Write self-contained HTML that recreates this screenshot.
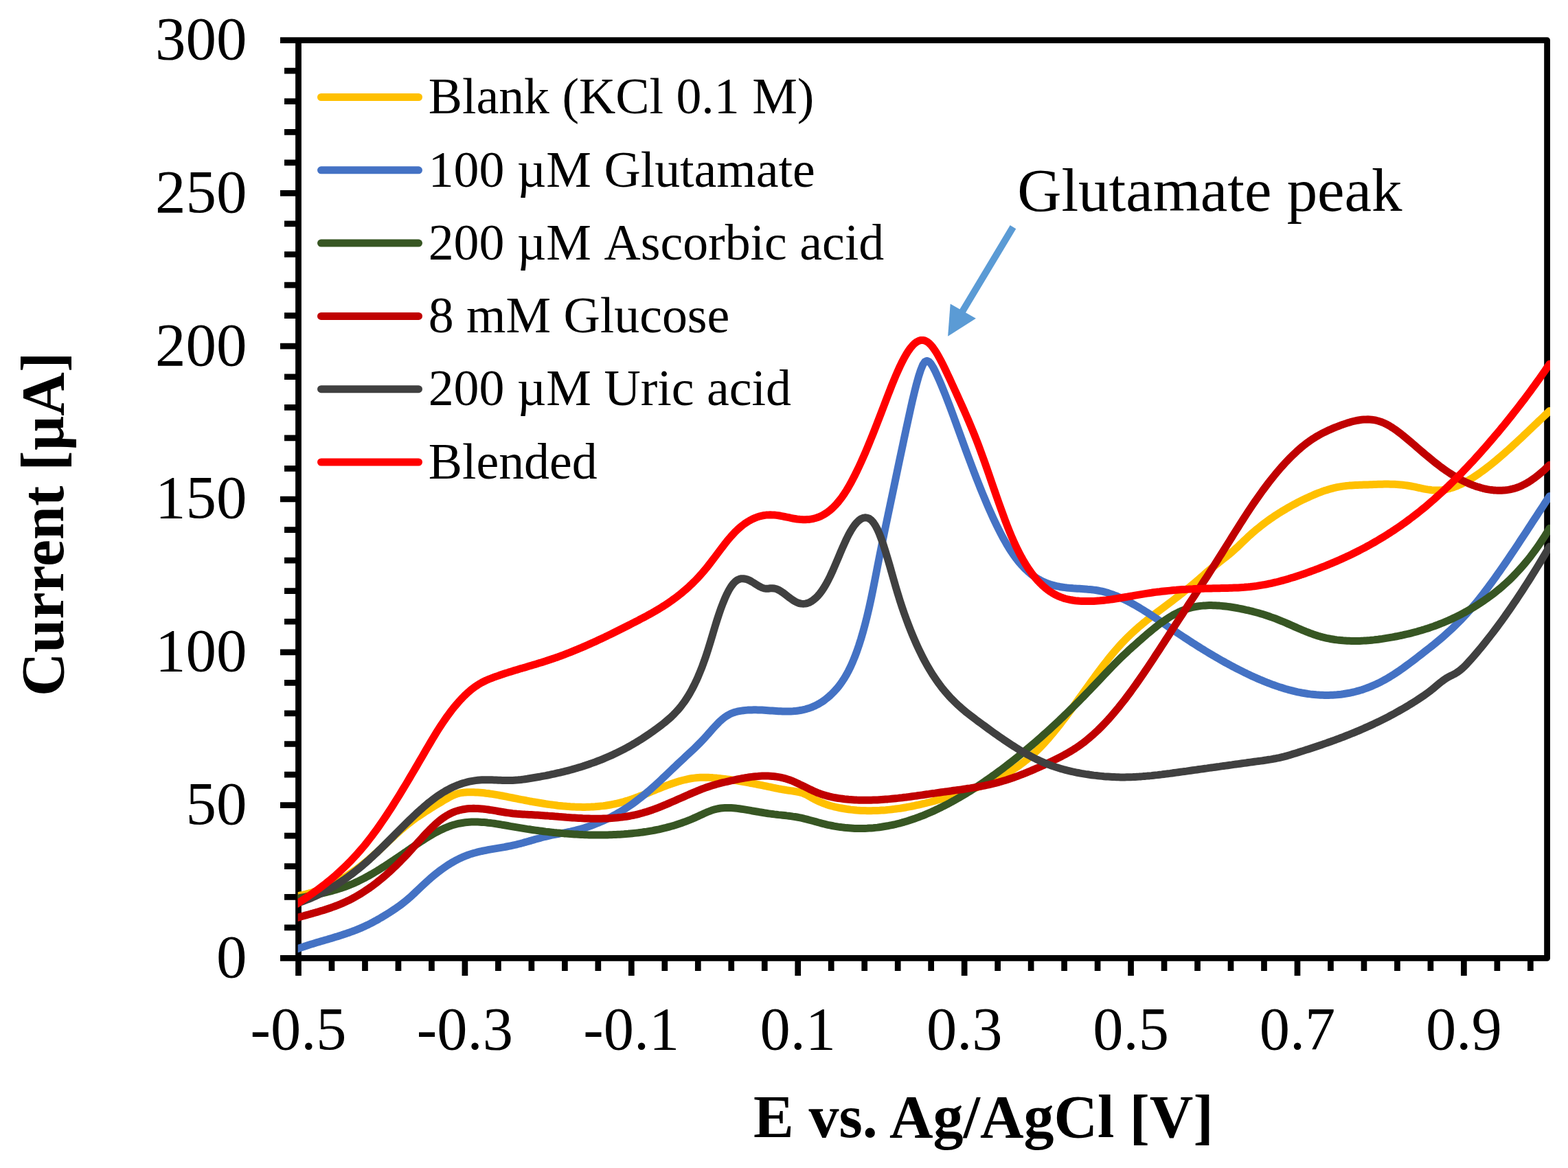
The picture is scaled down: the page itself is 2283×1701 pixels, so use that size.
<!DOCTYPE html>
<html lang="en"><head><meta charset="utf-8"><title>Voltammogram</title>
<style>html,body{margin:0;padding:0;background:#fff}body{width:2283px;height:1701px;overflow:hidden}svg{display:block}text{font-family:"Liberation Serif",serif;fill:#000;font-kerning:none}.b{font-weight:bold;font-kerning:auto}</style></head><body>
<svg width="2283" height="1701" viewBox="0 0 2283 1701">
<rect width="2283" height="1701" fill="#fff"/>
<path d="M414.0 1350.84H434.5M414.0 1306.28H434.5M414.0 1261.72H434.5M414.0 1217.16H434.5M408.0 1172.60H434.5M414.0 1128.04H434.5M414.0 1083.48H434.5M414.0 1038.92H434.5M414.0 994.36H434.5M408.0 949.80H434.5M414.0 905.24H434.5M414.0 860.68H434.5M414.0 816.12H434.5M414.0 771.56H434.5M408.0 727.00H434.5M414.0 682.44H434.5M414.0 637.88H434.5M414.0 593.32H434.5M414.0 548.76H434.5M408.0 504.20H434.5M414.0 459.64H434.5M414.0 415.08H434.5M414.0 370.52H434.5M414.0 325.96H434.5M408.0 281.40H434.5M414.0 236.84H434.5M414.0 192.28H434.5M414.0 147.72H434.5M414.0 103.16H434.5M434.50 1395.4V1421.0M482.98 1395.4V1414.0M531.47 1395.4V1414.0M579.95 1395.4V1414.0M628.43 1395.4V1414.0M676.91 1395.4V1421.0M725.40 1395.4V1414.0M773.88 1395.4V1414.0M822.36 1395.4V1414.0M870.84 1395.4V1414.0M919.33 1395.4V1421.0M967.81 1395.4V1414.0M1016.29 1395.4V1414.0M1064.77 1395.4V1414.0M1113.26 1395.4V1414.0M1161.74 1395.4V1421.0M1210.22 1395.4V1414.0M1258.71 1395.4V1414.0M1307.19 1395.4V1414.0M1355.67 1395.4V1414.0M1404.15 1395.4V1421.0M1452.64 1395.4V1414.0M1501.12 1395.4V1414.0M1549.60 1395.4V1414.0M1598.08 1395.4V1414.0M1646.57 1395.4V1421.0M1695.05 1395.4V1414.0M1743.53 1395.4V1414.0M1792.01 1395.4V1414.0M1840.50 1395.4V1414.0M1888.98 1395.4V1421.0M1937.46 1395.4V1414.0M1985.95 1395.4V1414.0M2034.43 1395.4V1414.0M2082.91 1395.4V1414.0M2131.39 1395.4V1421.0M2179.88 1395.4V1414.0M2228.36 1395.4V1414.0" stroke="#000" stroke-width="8.7" fill="none"/>
<path d="M408.0 58.60H2252.60V1395.40H408.0" stroke="#000" stroke-width="8.8" fill="none" stroke-linejoin="round"/>
<path d="M434.50 58.60V1395.40" stroke="#000" stroke-width="8.8" fill="none"/>
<defs><clipPath id="cp"><rect x="433.7" y="0" width="1823.3" height="1701"/></clipPath></defs>
<g fill="none" stroke-width="11" stroke-linejoin="round" stroke-linecap="round" clip-path="url(#cp)">
<path stroke="#FFC000" d="M428.5 1305.6L431.5 1305.1L434.5 1304.6L437.5 1304.0L440.5 1303.4L443.5 1302.7L446.5 1301.9L449.5 1301.1L452.5 1300.2L455.5 1299.3L458.5 1298.3L461.5 1297.3L464.5 1296.2L467.5 1295.0L470.5 1293.8L473.5 1292.5L476.5 1291.2L479.5 1289.8L482.5 1288.4L485.5 1286.9L488.5 1285.3L491.5 1283.7L494.5 1282.0L497.5 1280.2L500.5 1278.4L503.5 1276.6L506.5 1274.7L509.5 1272.7L512.5 1270.6L515.5 1268.5L518.5 1266.4L521.5 1264.2L524.5 1261.9L527.5 1259.5L530.5 1257.1L533.5 1254.7L536.5 1252.1L539.5 1249.6L542.5 1246.9L545.5 1244.2L548.5 1241.5L551.5 1238.7L554.5 1235.9L557.5 1233.1L560.5 1230.2L563.5 1227.4L566.5 1224.5L569.5 1221.7L572.5 1218.9L575.5 1216.1L578.5 1213.4L581.5 1210.7L584.5 1208.0L587.5 1205.5L590.5 1202.9L593.5 1200.5L596.5 1198.1L599.5 1195.8L602.5 1193.6L605.5 1191.4L608.5 1189.3L611.5 1187.3L614.5 1185.3L617.5 1183.3L620.5 1181.4L623.5 1179.5L626.5 1177.6L629.5 1175.7L632.5 1173.9L635.5 1172.1L638.5 1170.3L641.5 1168.5L644.5 1166.6L647.5 1164.8L650.5 1163.1L653.5 1161.4L656.5 1159.9L659.5 1158.4L662.5 1157.2L665.5 1156.1L668.5 1155.2L671.5 1154.6L674.5 1154.2L677.5 1153.9L680.5 1153.7L683.5 1153.7L686.5 1153.7L689.5 1153.7L692.5 1153.9L695.5 1154.0L698.5 1154.2L701.5 1154.5L704.5 1154.8L707.5 1155.2L710.5 1155.5L713.5 1156.0L716.5 1156.4L719.5 1156.9L722.5 1157.4L725.5 1157.9L728.5 1158.5L731.5 1159.0L734.5 1159.6L737.5 1160.2L740.5 1160.8L743.5 1161.4L746.5 1162.0L749.5 1162.6L752.5 1163.2L755.5 1163.8L758.5 1164.4L761.5 1164.9L764.5 1165.5L767.5 1166.1L770.5 1166.7L773.5 1167.2L776.5 1167.8L779.5 1168.3L782.5 1168.8L785.5 1169.3L788.5 1169.8L791.5 1170.3L794.5 1170.8L797.5 1171.2L800.5 1171.6L803.5 1172.0L806.5 1172.4L809.5 1172.8L812.5 1173.2L815.5 1173.5L818.5 1173.8L821.5 1174.1L824.5 1174.3L827.5 1174.6L830.5 1174.8L833.5 1174.9L836.5 1175.1L839.5 1175.2L842.5 1175.3L845.5 1175.3L848.5 1175.4L851.5 1175.4L854.5 1175.3L857.5 1175.2L860.5 1175.1L863.5 1174.9L866.5 1174.8L869.5 1174.5L872.5 1174.2L875.5 1173.9L878.5 1173.6L881.5 1173.2L884.5 1172.7L887.5 1172.2L890.5 1171.7L893.5 1171.1L896.5 1170.5L899.5 1169.8L902.5 1169.1L905.5 1168.3L908.5 1167.5L911.5 1166.6L914.5 1165.7L917.5 1164.7L920.5 1163.7L923.5 1162.6L926.5 1161.5L929.5 1160.4L932.5 1159.2L935.5 1158.1L938.5 1156.9L941.5 1155.7L944.5 1154.4L947.5 1153.2L950.5 1152.0L953.5 1150.8L956.5 1149.5L959.5 1148.3L962.5 1147.1L965.5 1145.9L968.5 1144.8L971.5 1143.7L974.5 1142.6L977.5 1141.5L980.5 1140.5L983.5 1139.5L986.5 1138.5L989.5 1137.6L992.5 1136.8L995.5 1136.0L998.5 1135.3L1001.5 1134.6L1004.5 1134.0L1007.5 1133.5L1010.5 1133.1L1013.5 1132.8L1016.5 1132.5L1019.5 1132.3L1022.5 1132.2L1025.5 1132.2L1028.5 1132.2L1031.5 1132.3L1034.5 1132.4L1037.5 1132.6L1040.5 1132.9L1043.5 1133.1L1046.5 1133.4L1049.5 1133.8L1052.5 1134.1L1055.5 1134.5L1058.5 1134.9L1061.5 1135.3L1064.5 1135.7L1067.5 1136.2L1070.5 1136.6L1073.5 1137.1L1076.5 1137.6L1079.5 1138.1L1082.5 1138.6L1085.5 1139.1L1088.5 1139.6L1091.5 1140.2L1094.5 1140.7L1097.5 1141.3L1100.5 1141.9L1103.5 1142.5L1106.5 1143.1L1109.5 1143.7L1112.5 1144.3L1115.5 1144.9L1118.5 1145.6L1121.5 1146.2L1124.5 1146.8L1127.5 1147.5L1130.5 1148.1L1133.5 1148.7L1136.5 1149.2L1139.5 1149.8L1142.5 1150.3L1145.5 1150.8L1148.5 1151.2L1151.5 1151.6L1154.5 1152.0L1157.5 1152.5L1160.5 1153.0L1163.5 1153.6L1166.5 1154.4L1169.5 1155.4L1172.5 1156.7L1175.5 1158.2L1178.5 1159.8L1181.5 1161.6L1184.5 1163.3L1187.5 1164.8L1190.5 1166.3L1193.5 1167.7L1196.5 1168.9L1199.5 1170.1L1202.5 1171.2L1205.5 1172.2L1208.5 1173.2L1211.5 1174.0L1214.5 1174.8L1217.5 1175.5L1220.5 1176.2L1223.5 1176.8L1226.5 1177.3L1229.5 1177.8L1232.5 1178.3L1235.5 1178.7L1238.5 1179.1L1241.5 1179.4L1244.5 1179.7L1247.5 1180.0L1250.5 1180.2L1253.5 1180.4L1256.5 1180.5L1259.5 1180.6L1262.5 1180.7L1265.5 1180.7L1268.5 1180.7L1271.5 1180.6L1274.5 1180.6L1277.5 1180.4L1280.5 1180.3L1283.5 1180.1L1286.5 1179.9L1289.5 1179.7L1292.5 1179.4L1295.5 1179.1L1298.5 1178.8L1301.5 1178.4L1304.5 1178.0L1307.5 1177.6L1310.5 1177.2L1313.5 1176.7L1316.5 1176.2L1319.5 1175.7L1322.5 1175.1L1325.5 1174.6L1328.5 1174.0L1331.5 1173.4L1334.5 1172.7L1337.5 1172.1L1340.5 1171.4L1343.5 1170.7L1346.5 1170.0L1349.5 1169.2L1352.5 1168.5L1355.5 1167.7L1358.5 1166.9L1361.5 1166.1L1364.5 1165.3L1367.5 1164.4L1370.5 1163.6L1373.5 1162.7L1376.5 1161.8L1379.5 1160.9L1382.5 1160.0L1385.5 1159.1L1388.5 1158.1L1391.5 1157.2L1394.5 1156.2L1397.5 1155.3L1400.5 1154.3L1403.5 1153.3L1406.5 1152.3L1409.5 1151.3L1412.5 1150.3L1415.5 1149.2L1418.5 1148.1L1421.5 1147.0L1424.5 1145.9L1427.5 1144.8L1430.5 1143.6L1433.5 1142.4L1436.5 1141.1L1439.5 1139.8L1442.5 1138.5L1445.5 1137.1L1448.5 1135.7L1451.5 1134.2L1454.5 1132.7L1457.5 1131.2L1460.5 1129.5L1463.5 1127.9L1466.5 1126.1L1469.5 1124.3L1472.5 1122.5L1475.5 1120.5L1478.5 1118.5L1481.5 1116.5L1484.5 1114.3L1487.5 1112.1L1490.5 1109.8L1493.5 1107.5L1496.5 1105.0L1499.5 1102.5L1502.5 1099.9L1505.5 1097.2L1508.5 1094.4L1511.5 1091.5L1514.5 1088.5L1517.5 1085.4L1520.5 1082.2L1523.5 1078.9L1526.5 1075.5L1529.5 1072.0L1532.5 1068.5L1535.5 1064.8L1538.5 1061.1L1541.5 1057.3L1544.5 1053.5L1547.5 1049.5L1550.5 1045.6L1553.5 1041.6L1556.5 1037.5L1559.5 1033.4L1562.5 1029.3L1565.5 1025.2L1568.5 1021.0L1571.5 1016.8L1574.5 1012.6L1577.5 1008.4L1580.5 1004.3L1583.5 1000.1L1586.5 995.9L1589.5 991.8L1592.5 987.7L1595.5 983.6L1598.5 979.5L1601.5 975.5L1604.5 971.5L1607.5 967.6L1610.5 963.8L1613.5 960.0L1616.5 956.2L1619.5 952.6L1622.5 949.0L1625.5 945.5L1628.5 942.1L1631.5 938.8L1634.5 935.6L1637.5 932.4L1640.5 929.4L1643.5 926.4L1646.5 923.6L1649.5 920.8L1652.5 918.0L1655.5 915.3L1658.5 912.7L1661.5 910.2L1664.5 907.6L1667.5 905.2L1670.5 902.8L1673.5 900.4L1676.5 898.0L1679.5 895.7L1682.5 893.4L1685.5 891.1L1688.5 888.8L1691.5 886.6L1694.5 884.3L1697.5 882.1L1700.5 879.8L1703.5 877.6L1706.5 875.3L1709.5 873.0L1712.5 870.7L1715.5 868.4L1718.5 866.0L1721.5 863.6L1724.5 861.2L1727.5 858.8L1730.5 856.3L1733.5 853.8L1736.5 851.3L1739.5 848.8L1742.5 846.2L1745.5 843.5L1748.5 840.9L1751.5 838.3L1754.5 835.6L1757.5 833.0L1760.5 830.5L1763.5 828.0L1766.5 825.6L1769.5 823.2L1772.5 820.9L1775.5 818.5L1778.5 816.2L1781.5 813.8L1784.5 811.5L1787.5 809.0L1790.5 806.6L1793.5 804.0L1796.5 801.4L1799.5 798.7L1802.5 795.9L1805.5 793.0L1808.5 790.1L1811.5 787.2L1814.5 784.4L1817.5 781.6L1820.5 778.9L1823.5 776.2L1826.5 773.6L1829.5 771.1L1832.5 768.7L1835.5 766.3L1838.5 763.9L1841.5 761.6L1844.5 759.4L1847.5 757.2L1850.5 755.1L1853.5 753.1L1856.5 751.0L1859.5 749.1L1862.5 747.2L1865.5 745.3L1868.5 743.5L1871.5 741.7L1874.5 739.9L1877.5 738.2L1880.5 736.5L1883.5 734.9L1886.5 733.3L1889.5 731.7L1892.5 730.2L1895.5 728.7L1898.5 727.2L1901.5 725.8L1904.5 724.4L1907.5 723.0L1910.5 721.7L1913.5 720.4L1916.5 719.1L1919.5 717.9L1922.5 716.8L1925.5 715.7L1928.5 714.6L1931.5 713.7L1934.5 712.7L1937.5 711.9L1940.5 711.1L1943.5 710.3L1946.5 709.7L1949.5 709.1L1952.5 708.6L1955.5 708.1L1958.5 707.8L1961.5 707.4L1964.5 707.1L1967.5 706.9L1970.5 706.7L1973.5 706.5L1976.5 706.4L1979.5 706.3L1982.5 706.2L1985.5 706.1L1988.5 706.0L1991.5 705.9L1994.5 705.8L1997.5 705.7L2000.5 705.5L2003.5 705.4L2006.5 705.3L2009.5 705.3L2012.5 705.2L2015.5 705.1L2018.5 705.1L2021.5 705.1L2024.5 705.2L2027.5 705.2L2030.5 705.3L2033.5 705.5L2036.5 705.7L2039.5 705.9L2042.5 706.2L2045.5 706.6L2048.5 707.0L2051.5 707.5L2054.5 708.0L2057.5 708.6L2060.5 709.2L2063.5 709.9L2066.5 710.5L2069.5 711.2L2072.5 711.8L2075.5 712.4L2078.5 712.9L2081.5 713.3L2084.5 713.7L2087.5 713.9L2090.5 714.1L2093.5 714.0L2096.5 713.9L2099.5 713.6L2102.5 713.2L2105.5 712.6L2108.5 711.9L2111.5 711.1L2114.5 710.2L2117.5 709.2L2120.5 708.1L2123.5 706.8L2126.5 705.5L2129.5 704.0L2132.5 702.5L2135.5 700.9L2138.5 699.2L2141.5 697.4L2144.5 695.6L2147.5 693.6L2150.5 691.6L2153.5 689.6L2156.5 687.4L2159.5 685.2L2162.5 683.0L2165.5 680.7L2168.5 678.4L2171.5 676.0L2174.5 673.5L2177.5 671.1L2180.5 668.5L2183.5 666.0L2186.5 663.4L2189.5 660.8L2192.5 658.2L2195.5 655.5L2198.5 652.8L2201.5 650.1L2204.5 647.3L2207.5 644.6L2210.5 641.8L2213.5 639.0L2216.5 636.2L2219.5 633.3L2222.5 630.5L2225.5 627.6L2228.5 624.8L2231.5 621.9L2234.5 619.1L2237.5 616.2L2240.5 613.3L2243.5 610.5L2246.5 607.6L2249.5 604.7L2252.5 601.9L2255.5 599.0L2256.1 598.5"/>
<path stroke="#4472C4" d="M428.5 1383.5L431.5 1382.4L434.5 1381.3L437.5 1380.2L440.5 1379.2L443.5 1378.2L446.5 1377.2L449.5 1376.2L452.5 1375.3L455.5 1374.4L458.5 1373.5L461.5 1372.6L464.5 1371.7L467.5 1370.8L470.5 1369.9L473.5 1369.0L476.5 1368.2L479.5 1367.3L482.5 1366.4L485.5 1365.5L488.5 1364.6L491.5 1363.7L494.5 1362.7L497.5 1361.8L500.5 1360.8L503.5 1359.8L506.5 1358.7L509.5 1357.7L512.5 1356.6L515.5 1355.5L518.5 1354.3L521.5 1353.1L524.5 1351.9L527.5 1350.6L530.5 1349.2L533.5 1347.8L536.5 1346.4L539.5 1344.9L542.5 1343.3L545.5 1341.7L548.5 1340.1L551.5 1338.4L554.5 1336.6L557.5 1334.9L560.5 1333.0L563.5 1331.2L566.5 1329.3L569.5 1327.4L572.5 1325.4L575.5 1323.4L578.5 1321.3L581.5 1319.2L584.5 1317.0L587.5 1314.7L590.5 1312.3L593.5 1309.8L596.5 1307.2L599.5 1304.4L602.5 1301.7L605.5 1298.8L608.5 1296.0L611.5 1293.1L614.5 1290.3L617.5 1287.5L620.5 1284.7L623.5 1282.0L626.5 1279.3L629.5 1276.8L632.5 1274.3L635.5 1271.9L638.5 1269.5L641.5 1267.3L644.5 1265.1L647.5 1263.0L650.5 1260.9L653.5 1259.0L656.5 1257.1L659.5 1255.4L662.5 1253.7L665.5 1252.1L668.5 1250.6L671.5 1249.2L674.5 1247.8L677.5 1246.6L680.5 1245.5L683.5 1244.4L686.5 1243.4L689.5 1242.5L692.5 1241.7L695.5 1240.9L698.5 1240.2L701.5 1239.5L704.5 1238.9L707.5 1238.3L710.5 1237.7L713.5 1237.1L716.5 1236.6L719.5 1236.1L722.5 1235.6L725.5 1235.1L728.5 1234.6L731.5 1234.1L734.5 1233.6L737.5 1233.0L740.5 1232.4L743.5 1231.8L746.5 1231.2L749.5 1230.5L752.5 1229.8L755.5 1229.0L758.5 1228.3L761.5 1227.5L764.5 1226.6L767.5 1225.8L770.5 1224.9L773.5 1224.1L776.5 1223.2L779.5 1222.3L782.5 1221.5L785.5 1220.7L788.5 1219.8L791.5 1219.0L794.5 1218.3L797.5 1217.6L800.5 1216.9L803.5 1216.2L806.5 1215.6L809.5 1215.0L812.5 1214.5L815.5 1213.9L818.5 1213.4L821.5 1212.9L824.5 1212.3L827.5 1211.7L830.5 1211.1L833.5 1210.4L836.5 1209.7L839.5 1208.9L842.5 1208.1L845.5 1207.3L848.5 1206.4L851.5 1205.5L854.5 1204.5L857.5 1203.5L860.5 1202.5L863.5 1201.4L866.5 1200.2L869.5 1199.0L872.5 1197.8L875.5 1196.5L878.5 1195.2L881.5 1193.8L884.5 1192.3L887.5 1190.8L890.5 1189.3L893.5 1187.7L896.5 1186.1L899.5 1184.3L902.5 1182.6L905.5 1180.8L908.5 1178.9L911.5 1177.0L914.5 1175.0L917.5 1173.0L920.5 1170.9L923.5 1168.7L926.5 1166.5L929.5 1164.2L932.5 1161.9L935.5 1159.5L938.5 1157.1L941.5 1154.5L944.5 1152.0L947.5 1149.3L950.5 1146.7L953.5 1144.0L956.5 1141.2L959.5 1138.5L962.5 1135.7L965.5 1132.8L968.5 1130.0L971.5 1127.1L974.5 1124.3L977.5 1121.4L980.5 1118.5L983.5 1115.7L986.5 1112.8L989.5 1110.0L992.5 1107.2L995.5 1104.4L998.5 1101.6L1001.5 1098.8L1004.5 1096.0L1007.5 1093.2L1010.5 1090.4L1013.5 1087.5L1016.5 1084.5L1019.5 1081.5L1022.5 1078.4L1025.5 1075.2L1028.5 1071.9L1031.5 1068.5L1034.5 1065.1L1037.5 1061.7L1040.5 1058.4L1043.5 1055.2L1046.5 1052.1L1049.5 1049.3L1052.5 1046.7L1055.5 1044.3L1058.5 1042.4L1061.5 1040.7L1064.5 1039.2L1067.5 1038.0L1070.5 1037.0L1073.5 1036.2L1076.5 1035.6L1079.5 1035.1L1082.5 1034.7L1085.5 1034.4L1088.5 1034.1L1091.5 1034.0L1094.5 1033.9L1097.5 1033.8L1100.5 1033.8L1103.5 1033.9L1106.5 1034.0L1109.5 1034.1L1112.5 1034.3L1115.5 1034.5L1118.5 1034.7L1121.5 1034.9L1124.5 1035.1L1127.5 1035.3L1130.5 1035.5L1133.5 1035.7L1136.5 1035.8L1139.5 1036.0L1142.5 1036.0L1145.5 1036.1L1148.5 1036.0L1151.5 1035.9L1154.5 1035.8L1157.5 1035.6L1160.5 1035.2L1163.5 1034.8L1166.5 1034.3L1169.5 1033.7L1172.5 1033.0L1175.5 1032.1L1178.5 1031.2L1181.5 1030.1L1184.5 1028.8L1187.5 1027.4L1190.5 1025.9L1193.5 1024.2L1196.5 1022.3L1199.5 1020.3L1202.5 1018.0L1205.5 1015.6L1208.5 1013.0L1211.5 1010.1L1214.5 1007.1L1217.5 1003.8L1220.5 1000.3L1223.5 996.4L1226.5 992.1L1229.5 987.5L1232.5 982.4L1235.5 976.8L1238.5 970.7L1241.5 964.0L1244.5 956.7L1247.5 948.7L1250.5 940.0L1253.5 930.6L1256.5 920.4L1259.5 909.4L1262.5 897.5L1265.5 884.7L1268.5 871.0L1271.5 856.4L1274.5 841.2L1277.5 825.8L1280.5 810.5L1283.5 795.5L1286.5 780.9L1289.5 766.4L1292.5 752.1L1295.5 737.9L1298.5 723.6L1301.5 709.3L1304.5 695.0L1307.5 680.7L1310.5 666.4L1313.5 652.3L1316.5 638.1L1319.5 624.1L1322.5 610.3L1325.5 596.6L1328.5 583.3L1331.5 570.7L1334.5 558.9L1337.5 548.2L1340.5 539.0L1343.5 531.6L1346.5 527.0L1349.5 525.5L1352.5 526.6L1355.5 529.8L1358.5 534.6L1361.5 540.4L1364.5 546.8L1367.5 553.5L1370.5 560.5L1373.5 567.8L1376.5 575.2L1379.5 582.9L1382.5 590.8L1385.5 598.8L1388.5 606.9L1391.5 615.1L1394.5 623.3L1397.5 631.6L1400.5 639.9L1403.5 648.1L1406.5 656.3L1409.5 664.4L1412.5 672.4L1415.5 680.4L1418.5 688.2L1421.5 696.0L1424.5 703.6L1427.5 711.1L1430.5 718.5L1433.5 725.7L1436.5 732.8L1439.5 739.8L1442.5 746.5L1445.5 753.2L1448.5 759.6L1451.5 765.8L1454.5 771.9L1457.5 777.7L1460.5 783.3L1463.5 788.7L1466.5 793.9L1469.5 798.8L1472.5 803.5L1475.5 807.9L1478.5 812.1L1481.5 816.0L1484.5 819.7L1487.5 823.1L1490.5 826.3L1493.5 829.3L1496.5 832.1L1499.5 834.7L1502.5 837.1L1505.5 839.3L1508.5 841.3L1511.5 843.2L1514.5 844.9L1517.5 846.4L1520.5 847.8L1523.5 849.1L1526.5 850.2L1529.5 851.2L1532.5 852.1L1535.5 852.9L1538.5 853.6L1541.5 854.2L1544.5 854.8L1547.5 855.2L1550.5 855.6L1553.5 856.0L1556.5 856.3L1559.5 856.5L1562.5 856.8L1565.5 857.0L1568.5 857.2L1571.5 857.3L1574.5 857.5L1577.5 857.7L1580.5 857.9L1583.5 858.2L1586.5 858.4L1589.5 858.7L1592.5 859.1L1595.5 859.5L1598.5 860.0L1601.5 860.6L1604.5 861.2L1607.5 861.9L1610.5 862.7L1613.5 863.6L1616.5 864.6L1619.5 865.6L1622.5 866.8L1625.5 867.9L1628.5 869.2L1631.5 870.5L1634.5 871.9L1637.5 873.3L1640.5 874.8L1643.5 876.3L1646.5 877.9L1649.5 879.6L1652.5 881.3L1655.5 883.0L1658.5 884.8L1661.5 886.6L1664.5 888.4L1667.5 890.3L1670.5 892.2L1673.5 894.1L1676.5 896.1L1679.5 898.1L1682.5 900.1L1685.5 902.1L1688.5 904.1L1691.5 906.1L1694.5 908.2L1697.5 910.2L1700.5 912.3L1703.5 914.3L1706.5 916.4L1709.5 918.4L1712.5 920.4L1715.5 922.5L1718.5 924.5L1721.5 926.5L1724.5 928.5L1727.5 930.4L1730.5 932.4L1733.5 934.3L1736.5 936.3L1739.5 938.2L1742.5 940.1L1745.5 942.0L1748.5 943.9L1751.5 945.7L1754.5 947.6L1757.5 949.4L1760.5 951.2L1763.5 953.0L1766.5 954.8L1769.5 956.5L1772.5 958.3L1775.5 960.0L1778.5 961.7L1781.5 963.4L1784.5 965.1L1787.5 966.7L1790.5 968.3L1793.5 970.0L1796.5 971.5L1799.5 973.1L1802.5 974.7L1805.5 976.2L1808.5 977.7L1811.5 979.2L1814.5 980.6L1817.5 982.1L1820.5 983.5L1823.5 984.9L1826.5 986.2L1829.5 987.6L1832.5 988.9L1835.5 990.2L1838.5 991.4L1841.5 992.7L1844.5 993.9L1847.5 995.0L1850.5 996.2L1853.5 997.3L1856.5 998.3L1859.5 999.4L1862.5 1000.4L1865.5 1001.3L1868.5 1002.3L1871.5 1003.2L1874.5 1004.0L1877.5 1004.9L1880.5 1005.6L1883.5 1006.4L1886.5 1007.1L1889.5 1007.8L1892.5 1008.4L1895.5 1009.0L1898.5 1009.5L1901.5 1010.0L1904.5 1010.5L1907.5 1010.9L1910.5 1011.2L1913.5 1011.5L1916.5 1011.8L1919.5 1012.0L1922.5 1012.2L1925.5 1012.3L1928.5 1012.4L1931.5 1012.4L1934.5 1012.4L1937.5 1012.3L1940.5 1012.2L1943.5 1012.0L1946.5 1011.8L1949.5 1011.5L1952.5 1011.2L1955.5 1010.8L1958.5 1010.3L1961.5 1009.8L1964.5 1009.3L1967.5 1008.6L1970.5 1008.0L1973.5 1007.2L1976.5 1006.4L1979.5 1005.6L1982.5 1004.7L1985.5 1003.7L1988.5 1002.6L1991.5 1001.5L1994.5 1000.4L1997.5 999.1L2000.5 997.8L2003.5 996.5L2006.5 995.1L2009.5 993.6L2012.5 992.0L2015.5 990.4L2018.5 988.7L2021.5 987.0L2024.5 985.1L2027.5 983.3L2030.5 981.4L2033.5 979.4L2036.5 977.4L2039.5 975.3L2042.5 973.2L2045.5 971.0L2048.5 968.8L2051.5 966.6L2054.5 964.4L2057.5 962.1L2060.5 959.8L2063.5 957.5L2066.5 955.2L2069.5 952.9L2072.5 950.5L2075.5 948.2L2078.5 945.8L2081.5 943.5L2084.5 941.1L2087.5 938.7L2090.5 936.2L2093.5 933.7L2096.5 931.2L2099.5 928.7L2102.5 926.1L2105.5 923.4L2108.5 920.7L2111.5 918.0L2114.5 915.2L2117.5 912.3L2120.5 909.4L2123.5 906.4L2126.5 903.4L2129.5 900.2L2132.5 897.0L2135.5 893.7L2138.5 890.4L2141.5 886.9L2144.5 883.4L2147.5 879.8L2150.5 876.1L2153.5 872.4L2156.5 868.6L2159.5 864.8L2162.5 860.8L2165.5 856.9L2168.5 852.8L2171.5 848.8L2174.5 844.6L2177.5 840.5L2180.5 836.2L2183.5 832.0L2186.5 827.7L2189.5 823.3L2192.5 819.0L2195.5 814.6L2198.5 810.1L2201.5 805.7L2204.5 801.2L2207.5 796.7L2210.5 792.2L2213.5 787.6L2216.5 783.0L2219.5 778.5L2222.5 773.9L2225.5 769.3L2228.5 764.7L2231.5 760.1L2234.5 755.5L2237.5 750.9L2240.5 746.3L2243.5 741.7L2246.5 737.2L2249.5 732.6L2252.5 728.0L2255.5 723.5L2256.1 722.6"/>
<path stroke="#375623" d="M428.5 1309.3L431.5 1308.7L434.5 1308.1L437.5 1307.5L440.5 1306.9L443.5 1306.3L446.5 1305.7L449.5 1305.1L452.5 1304.5L455.5 1303.9L458.5 1303.3L461.5 1302.7L464.5 1302.0L467.5 1301.3L470.5 1300.7L473.5 1300.0L476.5 1299.2L479.5 1298.5L482.5 1297.7L485.5 1296.8L488.5 1296.0L491.5 1295.1L494.5 1294.1L497.5 1293.2L500.5 1292.1L503.5 1291.0L506.5 1289.9L509.5 1288.7L512.5 1287.5L515.5 1286.2L518.5 1284.8L521.5 1283.4L524.5 1281.9L527.5 1280.4L530.5 1278.9L533.5 1277.2L536.5 1275.6L539.5 1273.9L542.5 1272.2L545.5 1270.4L548.5 1268.6L551.5 1266.8L554.5 1264.9L557.5 1263.0L560.5 1261.1L563.5 1259.1L566.5 1257.2L569.5 1255.2L572.5 1253.2L575.5 1251.1L578.5 1249.1L581.5 1247.1L584.5 1245.0L587.5 1242.9L590.5 1240.9L593.5 1238.8L596.5 1236.7L599.5 1234.6L602.5 1232.6L605.5 1230.5L608.5 1228.5L611.5 1226.5L614.5 1224.5L617.5 1222.6L620.5 1220.7L623.5 1218.8L626.5 1217.0L629.5 1215.2L632.5 1213.5L635.5 1211.9L638.5 1210.3L641.5 1208.8L644.5 1207.4L647.5 1206.0L650.5 1204.8L653.5 1203.6L656.5 1202.5L659.5 1201.6L662.5 1200.7L665.5 1199.9L668.5 1199.2L671.5 1198.7L674.5 1198.2L677.5 1197.8L680.5 1197.5L683.5 1197.3L686.5 1197.1L689.5 1197.0L692.5 1197.0L695.5 1197.1L698.5 1197.2L701.5 1197.4L704.5 1197.6L707.5 1197.8L710.5 1198.2L713.5 1198.5L716.5 1198.9L719.5 1199.3L722.5 1199.8L725.5 1200.2L728.5 1200.7L731.5 1201.3L734.5 1201.8L737.5 1202.3L740.5 1202.8L743.5 1203.4L746.5 1203.9L749.5 1204.4L752.5 1204.9L755.5 1205.4L758.5 1205.9L761.5 1206.4L764.5 1206.9L767.5 1207.4L770.5 1207.8L773.5 1208.3L776.5 1208.7L779.5 1209.1L782.5 1209.5L785.5 1209.9L788.5 1210.3L791.5 1210.7L794.5 1211.1L797.5 1211.4L800.5 1211.8L803.5 1212.1L806.5 1212.5L809.5 1212.8L812.5 1213.1L815.5 1213.3L818.5 1213.6L821.5 1213.9L824.5 1214.1L827.5 1214.3L830.5 1214.6L833.5 1214.8L836.5 1215.0L839.5 1215.1L842.5 1215.3L845.5 1215.4L848.5 1215.6L851.5 1215.7L854.5 1215.8L857.5 1215.9L860.5 1215.9L863.5 1216.0L866.5 1216.0L869.5 1216.0L872.5 1216.1L875.5 1216.0L878.5 1216.0L881.5 1216.0L884.5 1215.9L887.5 1215.8L890.5 1215.7L893.5 1215.6L896.5 1215.5L899.5 1215.3L902.5 1215.2L905.5 1215.0L908.5 1214.8L911.5 1214.5L914.5 1214.3L917.5 1214.0L920.5 1213.7L923.5 1213.4L926.5 1213.1L929.5 1212.8L932.5 1212.4L935.5 1212.0L938.5 1211.5L941.5 1211.1L944.5 1210.6L947.5 1210.1L950.5 1209.6L953.5 1209.0L956.5 1208.4L959.5 1207.8L962.5 1207.1L965.5 1206.4L968.5 1205.7L971.5 1204.9L974.5 1204.1L977.5 1203.3L980.5 1202.4L983.5 1201.5L986.5 1200.5L989.5 1199.5L992.5 1198.5L995.5 1197.4L998.5 1196.3L1001.5 1195.2L1004.5 1194.0L1007.5 1192.7L1010.5 1191.4L1013.5 1190.1L1016.5 1188.7L1019.5 1187.3L1022.5 1185.9L1025.5 1184.5L1028.5 1183.2L1031.5 1182.0L1034.5 1180.8L1037.5 1179.7L1040.5 1178.8L1043.5 1178.1L1046.5 1177.5L1049.5 1177.0L1052.5 1176.7L1055.5 1176.5L1058.5 1176.4L1061.5 1176.5L1064.5 1176.6L1067.5 1176.8L1070.5 1177.0L1073.5 1177.4L1076.5 1177.8L1079.5 1178.2L1082.5 1178.6L1085.5 1179.1L1088.5 1179.6L1091.5 1180.1L1094.5 1180.7L1097.5 1181.2L1100.5 1181.7L1103.5 1182.2L1106.5 1182.8L1109.5 1183.3L1112.5 1183.8L1115.5 1184.2L1118.5 1184.7L1121.5 1185.1L1124.5 1185.5L1127.5 1185.9L1130.5 1186.2L1133.5 1186.6L1136.5 1186.9L1139.5 1187.2L1142.5 1187.5L1145.5 1187.9L1148.5 1188.2L1151.5 1188.6L1154.5 1189.1L1157.5 1189.5L1160.5 1190.0L1163.5 1190.6L1166.5 1191.2L1169.5 1191.9L1172.5 1192.7L1175.5 1193.4L1178.5 1194.2L1181.5 1195.0L1184.5 1195.8L1187.5 1196.6L1190.5 1197.5L1193.5 1198.3L1196.5 1199.1L1199.5 1199.8L1202.5 1200.6L1205.5 1201.3L1208.5 1201.9L1211.5 1202.5L1214.5 1203.1L1217.5 1203.6L1220.5 1204.1L1223.5 1204.5L1226.5 1204.9L1229.5 1205.3L1232.5 1205.6L1235.5 1205.8L1238.5 1206.0L1241.5 1206.2L1244.5 1206.4L1247.5 1206.5L1250.5 1206.5L1253.5 1206.5L1256.5 1206.5L1259.5 1206.4L1262.5 1206.3L1265.5 1206.1L1268.5 1205.9L1271.5 1205.7L1274.5 1205.4L1277.5 1205.1L1280.5 1204.7L1283.5 1204.3L1286.5 1203.8L1289.5 1203.3L1292.5 1202.8L1295.5 1202.2L1298.5 1201.6L1301.5 1201.0L1304.5 1200.3L1307.5 1199.5L1310.5 1198.8L1313.5 1197.9L1316.5 1197.1L1319.5 1196.2L1322.5 1195.3L1325.5 1194.3L1328.5 1193.3L1331.5 1192.3L1334.5 1191.2L1337.5 1190.1L1340.5 1188.9L1343.5 1187.8L1346.5 1186.6L1349.5 1185.3L1352.5 1184.0L1355.5 1182.7L1358.5 1181.4L1361.5 1180.0L1364.5 1178.6L1367.5 1177.1L1370.5 1175.7L1373.5 1174.2L1376.5 1172.6L1379.5 1171.1L1382.5 1169.5L1385.5 1167.8L1388.5 1166.2L1391.5 1164.5L1394.5 1162.8L1397.5 1161.1L1400.5 1159.3L1403.5 1157.5L1406.5 1155.7L1409.5 1153.9L1412.5 1152.0L1415.5 1150.1L1418.5 1148.2L1421.5 1146.2L1424.5 1144.3L1427.5 1142.3L1430.5 1140.3L1433.5 1138.2L1436.5 1136.1L1439.5 1134.1L1442.5 1132.0L1445.5 1129.8L1448.5 1127.7L1451.5 1125.5L1454.5 1123.3L1457.5 1121.1L1460.5 1118.8L1463.5 1116.5L1466.5 1114.3L1469.5 1111.9L1472.5 1109.6L1475.5 1107.2L1478.5 1104.9L1481.5 1102.5L1484.5 1100.0L1487.5 1097.6L1490.5 1095.1L1493.5 1092.6L1496.5 1090.1L1499.5 1087.6L1502.5 1085.0L1505.5 1082.4L1508.5 1079.8L1511.5 1077.2L1514.5 1074.6L1517.5 1071.9L1520.5 1069.2L1523.5 1066.5L1526.5 1063.8L1529.5 1061.1L1532.5 1058.3L1535.5 1055.5L1538.5 1052.7L1541.5 1049.9L1544.5 1047.1L1547.5 1044.2L1550.5 1041.3L1553.5 1038.4L1556.5 1035.5L1559.5 1032.5L1562.5 1029.6L1565.5 1026.6L1568.5 1023.6L1571.5 1020.6L1574.5 1017.5L1577.5 1014.5L1580.5 1011.4L1583.5 1008.3L1586.5 1005.2L1589.5 1002.0L1592.5 998.9L1595.5 995.7L1598.5 992.6L1601.5 989.4L1604.5 986.2L1607.5 983.0L1610.5 979.9L1613.5 976.7L1616.5 973.6L1619.5 970.5L1622.5 967.4L1625.5 964.4L1628.5 961.4L1631.5 958.4L1634.5 955.5L1637.5 952.7L1640.5 949.9L1643.5 947.1L1646.5 944.4L1649.5 941.7L1652.5 939.1L1655.5 936.4L1658.5 933.7L1661.5 931.1L1664.5 928.4L1667.5 925.8L1670.5 923.2L1673.5 920.7L1676.5 918.2L1679.5 915.8L1682.5 913.4L1685.5 911.0L1688.5 908.7L1691.5 906.5L1694.5 904.4L1697.5 902.3L1700.5 900.3L1703.5 898.4L1706.5 896.6L1709.5 894.9L1712.5 893.3L1715.5 891.8L1718.5 890.4L1721.5 889.2L1724.5 888.0L1727.5 887.0L1730.5 886.0L1733.5 885.2L1736.5 884.5L1739.5 883.8L1742.5 883.3L1745.5 882.8L1748.5 882.4L1751.5 882.1L1754.5 881.9L1757.5 881.7L1760.5 881.6L1763.5 881.6L1766.5 881.7L1769.5 881.8L1772.5 881.9L1775.5 882.1L1778.5 882.4L1781.5 882.7L1784.5 883.0L1787.5 883.4L1790.5 883.8L1793.5 884.3L1796.5 884.8L1799.5 885.3L1802.5 885.8L1805.5 886.4L1808.5 887.0L1811.5 887.6L1814.5 888.3L1817.5 888.9L1820.5 889.7L1823.5 890.4L1826.5 891.2L1829.5 892.0L1832.5 892.8L1835.5 893.7L1838.5 894.6L1841.5 895.5L1844.5 896.5L1847.5 897.5L1850.5 898.6L1853.5 899.6L1856.5 900.7L1859.5 901.9L1862.5 903.1L1865.5 904.3L1868.5 905.5L1871.5 906.8L1874.5 908.1L1877.5 909.4L1880.5 910.7L1883.5 912.1L1886.5 913.4L1889.5 914.7L1892.5 916.0L1895.5 917.3L1898.5 918.5L1901.5 919.8L1904.5 920.9L1907.5 922.1L1910.5 923.2L1913.5 924.3L1916.5 925.2L1919.5 926.2L1922.5 927.1L1925.5 927.9L1928.5 928.6L1931.5 929.3L1934.5 929.9L1937.5 930.5L1940.5 931.0L1943.5 931.5L1946.5 931.9L1949.5 932.2L1952.5 932.5L1955.5 932.8L1958.5 933.0L1961.5 933.2L1964.5 933.3L1967.5 933.4L1970.5 933.5L1973.5 933.5L1976.5 933.4L1979.5 933.4L1982.5 933.2L1985.5 933.1L1988.5 932.9L1991.5 932.7L1994.5 932.5L1997.5 932.2L2000.5 931.9L2003.5 931.5L2006.5 931.2L2009.5 930.8L2012.5 930.4L2015.5 929.9L2018.5 929.4L2021.5 928.9L2024.5 928.4L2027.5 927.9L2030.5 927.3L2033.5 926.8L2036.5 926.2L2039.5 925.5L2042.5 924.9L2045.5 924.2L2048.5 923.5L2051.5 922.8L2054.5 922.1L2057.5 921.3L2060.5 920.5L2063.5 919.7L2066.5 918.8L2069.5 918.0L2072.5 917.1L2075.5 916.1L2078.5 915.2L2081.5 914.2L2084.5 913.1L2087.5 912.1L2090.5 911.0L2093.5 909.9L2096.5 908.7L2099.5 907.5L2102.5 906.3L2105.5 905.0L2108.5 903.7L2111.5 902.4L2114.5 901.0L2117.5 899.6L2120.5 898.1L2123.5 896.6L2126.5 895.1L2129.5 893.5L2132.5 891.9L2135.5 890.2L2138.5 888.5L2141.5 886.8L2144.5 885.0L2147.5 883.2L2150.5 881.3L2153.5 879.4L2156.5 877.4L2159.5 875.4L2162.5 873.3L2165.5 871.2L2168.5 869.1L2171.5 866.9L2174.5 864.6L2177.5 862.2L2180.5 859.8L2183.5 857.4L2186.5 854.8L2189.5 852.2L2192.5 849.5L2195.5 846.7L2198.5 843.9L2201.5 841.0L2204.5 837.9L2207.5 834.8L2210.5 831.6L2213.5 828.3L2216.5 824.9L2219.5 821.4L2222.5 817.8L2225.5 814.1L2228.5 810.3L2231.5 806.3L2234.5 802.3L2237.5 798.1L2240.5 793.8L2243.5 789.4L2246.5 784.8L2249.5 780.2L2252.5 775.3L2255.5 770.4L2256.1 769.4"/>
<path stroke="#C00000" d="M428.5 1337.7L431.5 1336.9L434.5 1336.0L437.5 1335.1L440.5 1334.3L443.5 1333.4L446.5 1332.6L449.5 1331.8L452.5 1330.9L455.5 1330.1L458.5 1329.2L461.5 1328.4L464.5 1327.5L467.5 1326.6L470.5 1325.7L473.5 1324.7L476.5 1323.7L479.5 1322.7L482.5 1321.7L485.5 1320.6L488.5 1319.5L491.5 1318.4L494.5 1317.2L497.5 1315.9L500.5 1314.6L503.5 1313.2L506.5 1311.8L509.5 1310.4L512.5 1308.8L515.5 1307.2L518.5 1305.5L521.5 1303.8L524.5 1302.0L527.5 1300.1L530.5 1298.2L533.5 1296.2L536.5 1294.2L539.5 1292.0L542.5 1289.9L545.5 1287.6L548.5 1285.3L551.5 1282.9L554.5 1280.5L557.5 1278.0L560.5 1275.5L563.5 1272.8L566.5 1270.2L569.5 1267.4L572.5 1264.6L575.5 1261.8L578.5 1258.8L581.5 1255.9L584.5 1252.8L587.5 1249.7L590.5 1246.6L593.5 1243.4L596.5 1240.1L599.5 1236.8L602.5 1233.4L605.5 1230.1L608.5 1226.7L611.5 1223.4L614.5 1220.1L617.5 1216.8L620.5 1213.6L623.5 1210.5L626.5 1207.4L629.5 1204.5L632.5 1201.6L635.5 1198.9L638.5 1196.3L641.5 1193.9L644.5 1191.6L647.5 1189.6L650.5 1187.7L653.5 1186.0L656.5 1184.5L659.5 1183.1L662.5 1181.9L665.5 1180.9L668.5 1180.0L671.5 1179.3L674.5 1178.7L677.5 1178.2L680.5 1177.8L683.5 1177.5L686.5 1177.4L689.5 1177.3L692.5 1177.4L695.5 1177.5L698.5 1177.7L701.5 1177.9L704.5 1178.2L707.5 1178.6L710.5 1179.0L713.5 1179.5L716.5 1179.9L719.5 1180.4L722.5 1180.9L725.5 1181.5L728.5 1182.0L731.5 1182.5L734.5 1183.0L737.5 1183.5L740.5 1183.9L743.5 1184.3L746.5 1184.7L749.5 1185.0L752.5 1185.3L755.5 1185.5L758.5 1185.7L761.5 1185.9L764.5 1186.1L767.5 1186.2L770.5 1186.4L773.5 1186.5L776.5 1186.7L779.5 1186.9L782.5 1187.1L785.5 1187.3L788.5 1187.5L791.5 1187.7L794.5 1187.9L797.5 1188.1L800.5 1188.4L803.5 1188.6L806.5 1188.8L809.5 1189.1L812.5 1189.3L815.5 1189.6L818.5 1189.8L821.5 1190.0L824.5 1190.3L827.5 1190.5L830.5 1190.7L833.5 1190.9L836.5 1191.1L839.5 1191.3L842.5 1191.5L845.5 1191.6L848.5 1191.8L851.5 1191.9L854.5 1192.0L857.5 1192.1L860.5 1192.2L863.5 1192.2L866.5 1192.2L869.5 1192.3L872.5 1192.2L875.5 1192.2L878.5 1192.1L881.5 1192.0L884.5 1191.9L887.5 1191.7L890.5 1191.5L893.5 1191.3L896.5 1191.1L899.5 1190.8L902.5 1190.4L905.5 1190.1L908.5 1189.6L911.5 1189.2L914.5 1188.7L917.5 1188.2L920.5 1187.6L923.5 1187.0L926.5 1186.3L929.5 1185.6L932.5 1184.8L935.5 1184.0L938.5 1183.1L941.5 1182.2L944.5 1181.2L947.5 1180.2L950.5 1179.2L953.5 1178.1L956.5 1177.0L959.5 1175.8L962.5 1174.6L965.5 1173.4L968.5 1172.2L971.5 1170.9L974.5 1169.6L977.5 1168.3L980.5 1167.0L983.5 1165.7L986.5 1164.3L989.5 1163.0L992.5 1161.7L995.5 1160.4L998.5 1159.0L1001.5 1157.7L1004.5 1156.4L1007.5 1155.1L1010.5 1153.8L1013.5 1152.6L1016.5 1151.3L1019.5 1150.1L1022.5 1148.9L1025.5 1147.8L1028.5 1146.7L1031.5 1145.7L1034.5 1144.7L1037.5 1143.8L1040.5 1142.9L1043.5 1142.0L1046.5 1141.2L1049.5 1140.4L1052.5 1139.7L1055.5 1139.0L1058.5 1138.3L1061.5 1137.6L1064.5 1136.9L1067.5 1136.3L1070.5 1135.6L1073.5 1135.0L1076.5 1134.4L1079.5 1133.8L1082.5 1133.3L1085.5 1132.7L1088.5 1132.3L1091.5 1131.8L1094.5 1131.4L1097.5 1131.0L1100.5 1130.7L1103.5 1130.5L1106.5 1130.2L1109.5 1130.1L1112.5 1130.0L1115.5 1130.0L1118.5 1130.1L1121.5 1130.2L1124.5 1130.4L1127.5 1130.7L1130.5 1131.1L1133.5 1131.6L1136.5 1132.1L1139.5 1132.8L1142.5 1133.6L1145.5 1134.5L1148.5 1135.4L1151.5 1136.5L1154.5 1137.7L1157.5 1139.0L1160.5 1140.4L1163.5 1141.8L1166.5 1143.3L1169.5 1144.7L1172.5 1146.2L1175.5 1147.7L1178.5 1149.2L1181.5 1150.6L1184.5 1152.0L1187.5 1153.3L1190.5 1154.6L1193.5 1155.7L1196.5 1156.8L1199.5 1157.7L1202.5 1158.6L1205.5 1159.4L1208.5 1160.2L1211.5 1160.8L1214.5 1161.5L1217.5 1162.0L1220.5 1162.5L1223.5 1162.9L1226.5 1163.3L1229.5 1163.7L1232.5 1164.0L1235.5 1164.3L1238.5 1164.5L1241.5 1164.7L1244.5 1164.9L1247.5 1165.1L1250.5 1165.2L1253.5 1165.2L1256.5 1165.3L1259.5 1165.3L1262.5 1165.3L1265.5 1165.3L1268.5 1165.2L1271.5 1165.1L1274.5 1165.0L1277.5 1164.9L1280.5 1164.7L1283.5 1164.5L1286.5 1164.3L1289.5 1164.1L1292.5 1163.9L1295.5 1163.6L1298.5 1163.3L1301.5 1163.0L1304.5 1162.7L1307.5 1162.4L1310.5 1162.0L1313.5 1161.7L1316.5 1161.3L1319.5 1161.0L1322.5 1160.6L1325.5 1160.2L1328.5 1159.8L1331.5 1159.4L1334.5 1159.0L1337.5 1158.5L1340.5 1158.1L1343.5 1157.7L1346.5 1157.2L1349.5 1156.8L1352.5 1156.4L1355.5 1155.9L1358.5 1155.5L1361.5 1155.1L1364.5 1154.6L1367.5 1154.2L1370.5 1153.8L1373.5 1153.4L1376.5 1153.0L1379.5 1152.6L1382.5 1152.2L1385.5 1151.8L1388.5 1151.3L1391.5 1150.9L1394.5 1150.5L1397.5 1150.1L1400.5 1149.7L1403.5 1149.2L1406.5 1148.8L1409.5 1148.3L1412.5 1147.9L1415.5 1147.4L1418.5 1146.9L1421.5 1146.4L1424.5 1145.8L1427.5 1145.3L1430.5 1144.7L1433.5 1144.1L1436.5 1143.4L1439.5 1142.8L1442.5 1142.1L1445.5 1141.4L1448.5 1140.7L1451.5 1139.9L1454.5 1139.1L1457.5 1138.2L1460.5 1137.3L1463.5 1136.4L1466.5 1135.5L1469.5 1134.5L1472.5 1133.5L1475.5 1132.5L1478.5 1131.4L1481.5 1130.3L1484.5 1129.2L1487.5 1128.0L1490.5 1126.9L1493.5 1125.7L1496.5 1124.4L1499.5 1123.2L1502.5 1121.9L1505.5 1120.6L1508.5 1119.3L1511.5 1118.0L1514.5 1116.6L1517.5 1115.3L1520.5 1113.9L1523.5 1112.4L1526.5 1111.0L1529.5 1109.6L1532.5 1108.1L1535.5 1106.6L1538.5 1105.1L1541.5 1103.6L1544.5 1102.1L1547.5 1100.5L1550.5 1098.9L1553.5 1097.2L1556.5 1095.5L1559.5 1093.7L1562.5 1091.9L1565.5 1090.0L1568.5 1088.0L1571.5 1085.9L1574.5 1083.8L1577.5 1081.6L1580.5 1079.2L1583.5 1076.8L1586.5 1074.3L1589.5 1071.7L1592.5 1069.1L1595.5 1066.3L1598.5 1063.5L1601.5 1060.5L1604.5 1057.5L1607.5 1054.4L1610.5 1051.2L1613.5 1048.0L1616.5 1044.6L1619.5 1041.2L1622.5 1037.7L1625.5 1034.1L1628.5 1030.5L1631.5 1026.7L1634.5 1022.9L1637.5 1019.1L1640.5 1015.1L1643.5 1011.1L1646.5 1007.1L1649.5 1002.9L1652.5 998.8L1655.5 994.5L1658.5 990.3L1661.5 985.9L1664.5 981.6L1667.5 977.2L1670.5 972.7L1673.5 968.2L1676.5 963.7L1679.5 959.2L1682.5 954.6L1685.5 950.0L1688.5 945.4L1691.5 940.8L1694.5 936.2L1697.5 931.5L1700.5 926.9L1703.5 922.2L1706.5 917.6L1709.5 912.9L1712.5 908.3L1715.5 903.6L1718.5 899.0L1721.5 894.4L1724.5 889.8L1727.5 885.2L1730.5 880.6L1733.5 876.0L1736.5 871.5L1739.5 866.9L1742.5 862.3L1745.5 857.7L1748.5 853.2L1751.5 848.6L1754.5 844.0L1757.5 839.4L1760.5 834.7L1763.5 830.1L1766.5 825.4L1769.5 820.7L1772.5 816.0L1775.5 811.2L1778.5 806.5L1781.5 801.7L1784.5 796.9L1787.5 792.1L1790.5 787.3L1793.5 782.5L1796.5 777.7L1799.5 772.9L1802.5 768.2L1805.5 763.4L1808.5 758.7L1811.5 754.1L1814.5 749.4L1817.5 744.8L1820.5 740.3L1823.5 735.8L1826.5 731.4L1829.5 727.1L1832.5 722.8L1835.5 718.6L1838.5 714.4L1841.5 710.4L1844.5 706.4L1847.5 702.4L1850.5 698.6L1853.5 694.8L1856.5 691.1L1859.5 687.5L1862.5 684.0L1865.5 680.5L1868.5 677.2L1871.5 673.9L1874.5 670.7L1877.5 667.6L1880.5 664.6L1883.5 661.7L1886.5 658.9L1889.5 656.1L1892.5 653.5L1895.5 650.9L1898.5 648.5L1901.5 646.2L1904.5 643.9L1907.5 641.8L1910.5 639.7L1913.5 637.8L1916.5 635.9L1919.5 634.2L1922.5 632.5L1925.5 630.9L1928.5 629.4L1931.5 628.0L1934.5 626.6L1937.5 625.2L1940.5 623.9L1943.5 622.7L1946.5 621.5L1949.5 620.3L1952.5 619.2L1955.5 618.1L1958.5 617.1L1961.5 616.1L1964.5 615.2L1967.5 614.3L1970.5 613.5L1973.5 612.8L1976.5 612.2L1979.5 611.7L1982.5 611.3L1985.5 611.0L1988.5 610.9L1991.5 610.8L1994.5 611.0L1997.5 611.2L2000.5 611.6L2003.5 612.2L2006.5 613.0L2009.5 613.9L2012.5 615.0L2015.5 616.3L2018.5 617.7L2021.5 619.3L2024.5 621.1L2027.5 623.0L2030.5 625.0L2033.5 627.1L2036.5 629.4L2039.5 631.7L2042.5 634.0L2045.5 636.5L2048.5 639.0L2051.5 641.5L2054.5 644.0L2057.5 646.6L2060.5 649.2L2063.5 651.8L2066.5 654.4L2069.5 656.9L2072.5 659.5L2075.5 662.1L2078.5 664.6L2081.5 667.1L2084.5 669.6L2087.5 672.0L2090.5 674.4L2093.5 676.7L2096.5 679.0L2099.5 681.2L2102.5 683.4L2105.5 685.5L2108.5 687.5L2111.5 689.5L2114.5 691.4L2117.5 693.2L2120.5 695.0L2123.5 696.7L2126.5 698.3L2129.5 699.9L2132.5 701.3L2135.5 702.8L2138.5 704.1L2141.5 705.4L2144.5 706.6L2147.5 707.7L2150.5 708.7L2153.5 709.6L2156.5 710.5L2159.5 711.3L2162.5 712.0L2165.5 712.6L2168.5 713.1L2171.5 713.5L2174.5 713.9L2177.5 714.1L2180.5 714.2L2183.5 714.3L2186.5 714.2L2189.5 714.1L2192.5 713.8L2195.5 713.4L2198.5 712.9L2201.5 712.2L2204.5 711.4L2207.5 710.5L2210.5 709.5L2213.5 708.3L2216.5 706.9L2219.5 705.4L2222.5 703.8L2225.5 702.1L2228.5 700.2L2231.5 698.1L2234.5 696.0L2237.5 693.7L2240.5 691.3L2243.5 688.8L2246.5 686.2L2249.5 683.4L2252.5 680.6L2255.5 677.7L2256.1 677.1"/>
<path stroke="#404040" d="M428.5 1316.6L431.5 1315.7L434.5 1314.8L437.5 1313.8L440.5 1312.8L443.5 1311.7L446.5 1310.5L449.5 1309.3L452.5 1308.1L455.5 1306.8L458.5 1305.5L461.5 1304.1L464.5 1302.6L467.5 1301.1L470.5 1299.6L473.5 1298.0L476.5 1296.4L479.5 1294.7L482.5 1292.9L485.5 1291.1L488.5 1289.3L491.5 1287.4L494.5 1285.4L497.5 1283.4L500.5 1281.4L503.5 1279.3L506.5 1277.1L509.5 1274.9L512.5 1272.7L515.5 1270.4L518.5 1268.0L521.5 1265.6L524.5 1263.2L527.5 1260.7L530.5 1258.1L533.5 1255.5L536.5 1252.9L539.5 1250.1L542.5 1247.4L545.5 1244.6L548.5 1241.7L551.5 1238.8L554.5 1235.9L557.5 1233.0L560.5 1230.0L563.5 1227.0L566.5 1224.0L569.5 1221.0L572.5 1218.0L575.5 1214.9L578.5 1211.9L581.5 1208.9L584.5 1205.9L587.5 1202.9L590.5 1199.9L593.5 1196.9L596.5 1194.0L599.5 1191.1L602.5 1188.3L605.5 1185.4L608.5 1182.7L611.5 1179.9L614.5 1177.3L617.5 1174.7L620.5 1172.1L623.5 1169.6L626.5 1167.2L629.5 1164.9L632.5 1162.6L635.5 1160.4L638.5 1158.3L641.5 1156.3L644.5 1154.4L647.5 1152.6L650.5 1150.9L653.5 1149.3L656.5 1147.7L659.5 1146.3L662.5 1145.0L665.5 1143.7L668.5 1142.6L671.5 1141.5L674.5 1140.5L677.5 1139.7L680.5 1138.9L683.5 1138.2L686.5 1137.6L689.5 1137.1L692.5 1136.6L695.5 1136.3L698.5 1136.0L701.5 1135.8L704.5 1135.7L707.5 1135.7L710.5 1135.7L713.5 1135.7L716.5 1135.8L719.5 1135.9L722.5 1136.0L725.5 1136.2L728.5 1136.3L731.5 1136.4L734.5 1136.5L737.5 1136.5L740.5 1136.6L743.5 1136.5L746.5 1136.5L749.5 1136.3L752.5 1136.1L755.5 1135.8L758.5 1135.5L761.5 1135.1L764.5 1134.7L767.5 1134.3L770.5 1133.8L773.5 1133.3L776.5 1132.8L779.5 1132.3L782.5 1131.8L785.5 1131.3L788.5 1130.7L791.5 1130.1L794.5 1129.6L797.5 1129.0L800.5 1128.4L803.5 1127.7L806.5 1127.1L809.5 1126.4L812.5 1125.7L815.5 1125.1L818.5 1124.3L821.5 1123.6L824.5 1122.8L827.5 1122.1L830.5 1121.3L833.5 1120.4L836.5 1119.6L839.5 1118.7L842.5 1117.8L845.5 1116.9L848.5 1116.0L851.5 1115.0L854.5 1114.0L857.5 1113.0L860.5 1111.9L863.5 1110.9L866.5 1109.8L869.5 1108.6L872.5 1107.5L875.5 1106.3L878.5 1105.1L881.5 1103.8L884.5 1102.5L887.5 1101.2L890.5 1099.9L893.5 1098.5L896.5 1097.1L899.5 1095.6L902.5 1094.1L905.5 1092.6L908.5 1091.1L911.5 1089.5L914.5 1087.9L917.5 1086.2L920.5 1084.5L923.5 1082.7L926.5 1081.0L929.5 1079.1L932.5 1077.3L935.5 1075.4L938.5 1073.4L941.5 1071.4L944.5 1069.4L947.5 1067.3L950.5 1065.2L953.5 1063.1L956.5 1060.9L959.5 1058.6L962.5 1056.3L965.5 1054.0L968.5 1051.6L971.5 1049.1L974.5 1046.5L977.5 1043.8L980.5 1040.9L983.5 1037.8L986.5 1034.6L989.5 1031.1L992.5 1027.3L995.5 1023.3L998.5 1019.0L1001.5 1014.3L1004.5 1009.3L1007.5 1003.9L1010.5 998.1L1013.5 991.9L1016.5 985.2L1019.5 978.0L1022.5 970.4L1025.5 962.2L1028.5 953.4L1031.5 944.1L1034.5 934.3L1037.5 924.3L1040.5 914.2L1043.5 904.5L1046.5 895.2L1049.5 886.5L1052.5 878.6L1055.5 871.3L1058.5 864.7L1061.5 859.0L1064.5 854.1L1067.5 850.1L1070.5 847.0L1073.5 844.8L1076.5 843.4L1079.5 842.7L1082.5 842.7L1085.5 843.2L1088.5 844.1L1091.5 845.4L1094.5 847.1L1097.5 848.9L1100.5 850.8L1103.5 852.7L1106.5 854.4L1109.5 855.9L1112.5 856.9L1115.5 857.3L1118.5 857.2L1121.5 856.8L1124.5 856.7L1127.5 857.0L1130.5 857.8L1133.5 859.1L1136.5 860.8L1139.5 862.8L1142.5 865.0L1145.5 867.3L1148.5 869.7L1151.5 871.9L1154.5 874.0L1157.5 875.9L1160.5 877.4L1163.5 878.5L1166.5 879.1L1169.5 879.4L1172.5 879.1L1175.5 878.5L1178.5 877.3L1181.5 875.7L1184.5 873.6L1187.5 871.1L1190.5 868.1L1193.5 864.6L1196.5 860.6L1199.5 856.1L1202.5 851.1L1205.5 845.6L1208.5 839.6L1211.5 833.2L1214.5 826.4L1217.5 819.4L1220.5 812.3L1223.5 805.1L1226.5 798.1L1229.5 791.4L1232.5 784.9L1235.5 778.9L1238.5 773.5L1241.5 768.6L1244.5 764.4L1247.5 760.9L1250.5 758.0L1253.5 755.8L1256.5 754.4L1259.5 753.8L1262.5 754.1L1265.5 755.2L1268.5 757.4L1271.5 760.7L1274.5 765.2L1277.5 770.9L1280.5 777.8L1283.5 785.7L1286.5 794.4L1289.5 803.8L1292.5 813.8L1295.5 824.1L1298.5 834.7L1301.5 845.2L1304.5 855.7L1307.5 865.7L1310.5 875.3L1313.5 884.5L1316.5 893.2L1319.5 901.5L1322.5 909.5L1325.5 917.2L1328.5 924.6L1331.5 931.7L1334.5 938.5L1337.5 945.0L1340.5 951.2L1343.5 957.2L1346.5 962.9L1349.5 968.3L1352.5 973.5L1355.5 978.5L1358.5 983.3L1361.5 987.8L1364.5 992.1L1367.5 996.3L1370.5 1000.3L1373.5 1004.1L1376.5 1007.7L1379.5 1011.1L1382.5 1014.5L1385.5 1017.7L1388.5 1020.7L1391.5 1023.6L1394.5 1026.5L1397.5 1029.2L1400.5 1031.8L1403.5 1034.4L1406.5 1036.9L1409.5 1039.3L1412.5 1041.6L1415.5 1043.9L1418.5 1046.2L1421.5 1048.5L1424.5 1050.7L1427.5 1052.9L1430.5 1055.1L1433.5 1057.3L1436.5 1059.5L1439.5 1061.7L1442.5 1063.9L1445.5 1066.1L1448.5 1068.2L1451.5 1070.3L1454.5 1072.4L1457.5 1074.5L1460.5 1076.6L1463.5 1078.6L1466.5 1080.6L1469.5 1082.6L1472.5 1084.6L1475.5 1086.5L1478.5 1088.4L1481.5 1090.3L1484.5 1092.1L1487.5 1093.9L1490.5 1095.7L1493.5 1097.4L1496.5 1099.1L1499.5 1100.7L1502.5 1102.3L1505.5 1103.9L1508.5 1105.4L1511.5 1106.8L1514.5 1108.2L1517.5 1109.6L1520.5 1110.9L1523.5 1112.1L1526.5 1113.3L1529.5 1114.5L1532.5 1115.6L1535.5 1116.6L1538.5 1117.6L1541.5 1118.5L1544.5 1119.4L1547.5 1120.3L1550.5 1121.1L1553.5 1121.9L1556.5 1122.6L1559.5 1123.3L1562.5 1124.0L1565.5 1124.7L1568.5 1125.3L1571.5 1125.8L1574.5 1126.4L1577.5 1126.9L1580.5 1127.4L1583.5 1127.8L1586.5 1128.3L1589.5 1128.7L1592.5 1129.1L1595.5 1129.4L1598.5 1129.8L1601.5 1130.1L1604.5 1130.4L1607.5 1130.7L1610.5 1130.9L1613.5 1131.1L1616.5 1131.3L1619.5 1131.5L1622.5 1131.6L1625.5 1131.7L1628.5 1131.8L1631.5 1131.9L1634.5 1131.9L1637.5 1131.9L1640.5 1131.8L1643.5 1131.8L1646.5 1131.7L1649.5 1131.6L1652.5 1131.4L1655.5 1131.2L1658.5 1131.1L1661.5 1130.9L1664.5 1130.6L1667.5 1130.4L1670.5 1130.1L1673.5 1129.9L1676.5 1129.6L1679.5 1129.2L1682.5 1128.9L1685.5 1128.6L1688.5 1128.2L1691.5 1127.9L1694.5 1127.5L1697.5 1127.1L1700.5 1126.7L1703.5 1126.4L1706.5 1126.0L1709.5 1125.5L1712.5 1125.1L1715.5 1124.7L1718.5 1124.3L1721.5 1123.9L1724.5 1123.5L1727.5 1123.1L1730.5 1122.6L1733.5 1122.2L1736.5 1121.8L1739.5 1121.4L1742.5 1121.0L1745.5 1120.5L1748.5 1120.1L1751.5 1119.7L1754.5 1119.3L1757.5 1118.9L1760.5 1118.4L1763.5 1118.0L1766.5 1117.6L1769.5 1117.2L1772.5 1116.8L1775.5 1116.4L1778.5 1115.9L1781.5 1115.5L1784.5 1115.1L1787.5 1114.7L1790.5 1114.3L1793.5 1113.9L1796.5 1113.4L1799.5 1113.0L1802.5 1112.6L1805.5 1112.2L1808.5 1111.8L1811.5 1111.4L1814.5 1111.0L1817.5 1110.5L1820.5 1110.1L1823.5 1109.7L1826.5 1109.3L1829.5 1108.9L1832.5 1108.5L1835.5 1108.1L1838.5 1107.7L1841.5 1107.2L1844.5 1106.8L1847.5 1106.3L1850.5 1105.9L1853.5 1105.3L1856.5 1104.8L1859.5 1104.2L1862.5 1103.6L1865.5 1102.9L1868.5 1102.2L1871.5 1101.4L1874.5 1100.6L1877.5 1099.7L1880.5 1098.8L1883.5 1097.8L1886.5 1096.9L1889.5 1096.0L1892.5 1095.0L1895.5 1094.1L1898.5 1093.1L1901.5 1092.1L1904.5 1091.2L1907.5 1090.2L1910.5 1089.2L1913.5 1088.2L1916.5 1087.2L1919.5 1086.2L1922.5 1085.2L1925.5 1084.2L1928.5 1083.1L1931.5 1082.1L1934.5 1081.0L1937.5 1080.0L1940.5 1078.9L1943.5 1077.8L1946.5 1076.7L1949.5 1075.6L1952.5 1074.4L1955.5 1073.3L1958.5 1072.1L1961.5 1070.9L1964.5 1069.8L1967.5 1068.5L1970.5 1067.3L1973.5 1066.1L1976.5 1064.8L1979.5 1063.6L1982.5 1062.3L1985.5 1061.0L1988.5 1059.6L1991.5 1058.3L1994.5 1056.9L1997.5 1055.6L2000.5 1054.2L2003.5 1052.7L2006.5 1051.3L2009.5 1049.8L2012.5 1048.3L2015.5 1046.8L2018.5 1045.3L2021.5 1043.8L2024.5 1042.2L2027.5 1040.6L2030.5 1039.0L2033.5 1037.3L2036.5 1035.6L2039.5 1033.9L2042.5 1032.2L2045.5 1030.5L2048.5 1028.7L2051.5 1026.9L2054.5 1025.0L2057.5 1023.2L2060.5 1021.3L2063.5 1019.4L2066.5 1017.4L2069.5 1015.4L2072.5 1013.4L2075.5 1011.3L2078.5 1009.1L2081.5 1006.9L2084.5 1004.5L2087.5 1002.1L2090.5 999.6L2093.5 997.1L2096.5 994.6L2099.5 992.2L2102.5 990.0L2105.5 987.9L2108.5 986.2L2111.5 984.6L2114.5 983.2L2117.5 981.7L2120.5 979.9L2123.5 977.9L2126.5 975.6L2129.5 973.0L2132.5 970.2L2135.5 967.1L2138.5 963.8L2141.5 960.5L2144.5 957.1L2147.5 953.6L2150.5 950.1L2153.5 946.5L2156.5 942.9L2159.5 939.2L2162.5 935.5L2165.5 931.7L2168.5 927.9L2171.5 924.0L2174.5 920.1L2177.5 916.1L2180.5 912.1L2183.5 908.0L2186.5 903.9L2189.5 899.8L2192.5 895.5L2195.5 891.3L2198.5 887.0L2201.5 882.6L2204.5 878.2L2207.5 873.8L2210.5 869.3L2213.5 864.8L2216.5 860.2L2219.5 855.6L2222.5 850.9L2225.5 846.2L2228.5 841.5L2231.5 836.7L2234.5 831.9L2237.5 827.0L2240.5 822.1L2243.5 817.1L2246.5 812.1L2249.5 807.1L2252.5 802.0L2255.5 796.9L2256.1 795.9"/>
<path stroke="#FF0000" d="M428.5 1318.7L431.5 1316.8L434.5 1314.8L437.5 1312.9L440.5 1310.9L443.5 1308.9L446.5 1306.9L449.5 1304.9L452.5 1302.8L455.5 1300.7L458.5 1298.6L461.5 1296.4L464.5 1294.2L467.5 1291.9L470.5 1289.6L473.5 1287.3L476.5 1284.9L479.5 1282.4L482.5 1279.9L485.5 1277.4L488.5 1274.8L491.5 1272.1L494.5 1269.4L497.5 1266.6L500.5 1263.8L503.5 1260.9L506.5 1257.9L509.5 1254.9L512.5 1251.7L515.5 1248.5L518.5 1245.3L521.5 1241.9L524.5 1238.5L527.5 1235.0L530.5 1231.4L533.5 1227.7L536.5 1223.9L539.5 1220.0L542.5 1216.1L545.5 1212.0L548.5 1207.9L551.5 1203.7L554.5 1199.4L557.5 1195.0L560.5 1190.6L563.5 1186.1L566.5 1181.5L569.5 1176.9L572.5 1172.2L575.5 1167.4L578.5 1162.6L581.5 1157.8L584.5 1152.9L587.5 1147.9L590.5 1143.0L593.5 1138.0L596.5 1132.9L599.5 1127.8L602.5 1122.7L605.5 1117.6L608.5 1112.5L611.5 1107.3L614.5 1102.2L617.5 1097.0L620.5 1091.8L623.5 1086.7L626.5 1081.6L629.5 1076.5L632.5 1071.6L635.5 1066.7L638.5 1061.9L641.5 1057.2L644.5 1052.7L647.5 1048.3L650.5 1044.0L653.5 1039.9L656.5 1035.9L659.5 1032.0L662.5 1028.3L665.5 1024.8L668.5 1021.4L671.5 1018.1L674.5 1015.0L677.5 1012.0L680.5 1009.2L683.5 1006.6L686.5 1004.1L689.5 1001.7L692.5 999.6L695.5 997.6L698.5 995.7L701.5 994.0L704.5 992.5L707.5 991.0L710.5 989.7L713.5 988.5L716.5 987.3L719.5 986.2L722.5 985.1L725.5 984.1L728.5 983.0L731.5 982.0L734.5 981.0L737.5 980.1L740.5 979.1L743.5 978.2L746.5 977.3L749.5 976.3L752.5 975.4L755.5 974.5L758.5 973.6L761.5 972.8L764.5 971.9L767.5 971.0L770.5 970.1L773.5 969.2L776.5 968.3L779.5 967.4L782.5 966.5L785.5 965.6L788.5 964.7L791.5 963.7L794.5 962.8L797.5 961.8L800.5 960.8L803.5 959.8L806.5 958.8L809.5 957.7L812.5 956.7L815.5 955.6L818.5 954.5L821.5 953.3L824.5 952.2L827.5 951.0L830.5 949.8L833.5 948.6L836.5 947.4L839.5 946.2L842.5 944.9L845.5 943.7L848.5 942.4L851.5 941.1L854.5 939.8L857.5 938.4L860.5 937.1L863.5 935.7L866.5 934.4L869.5 933.0L872.5 931.6L875.5 930.2L878.5 928.8L881.5 927.3L884.5 925.9L887.5 924.4L890.5 923.0L893.5 921.5L896.5 920.0L899.5 918.5L902.5 917.0L905.5 915.5L908.5 914.0L911.5 912.5L914.5 911.0L917.5 909.5L920.5 907.9L923.5 906.4L926.5 904.8L929.5 903.3L932.5 901.7L935.5 900.2L938.5 898.6L941.5 897.0L944.5 895.3L947.5 893.7L950.5 892.0L953.5 890.3L956.5 888.5L959.5 886.7L962.5 884.9L965.5 883.0L968.5 881.1L971.5 879.1L974.5 877.1L977.5 875.0L980.5 872.8L983.5 870.6L986.5 868.4L989.5 866.0L992.5 863.6L995.5 861.1L998.5 858.5L1001.5 855.9L1004.5 853.1L1007.5 850.2L1010.5 847.3L1013.5 844.2L1016.5 841.1L1019.5 837.8L1022.5 834.4L1025.5 830.9L1028.5 827.3L1031.5 823.5L1034.5 819.6L1037.5 815.7L1040.5 811.7L1043.5 807.7L1046.5 803.7L1049.5 799.7L1052.5 795.8L1055.5 791.9L1058.5 788.1L1061.5 784.5L1064.5 781.0L1067.5 777.7L1070.5 774.5L1073.5 771.6L1076.5 768.9L1079.5 766.3L1082.5 764.0L1085.5 761.8L1088.5 759.9L1091.5 758.1L1094.5 756.5L1097.5 755.1L1100.5 753.8L1103.5 752.7L1106.5 751.8L1109.5 751.1L1112.5 750.5L1115.5 750.1L1118.5 749.9L1121.5 749.8L1124.5 749.9L1127.5 750.0L1130.5 750.4L1133.5 750.8L1136.5 751.3L1139.5 751.9L1142.5 752.5L1145.5 753.1L1148.5 753.7L1151.5 754.4L1154.5 755.0L1157.5 755.5L1160.5 756.0L1163.5 756.3L1166.5 756.6L1169.5 756.8L1172.5 756.8L1175.5 756.6L1178.5 756.4L1181.5 755.9L1184.5 755.3L1187.5 754.5L1190.5 753.6L1193.5 752.4L1196.5 751.0L1199.5 749.4L1202.5 747.5L1205.5 745.4L1208.5 743.1L1211.5 740.5L1214.5 737.6L1217.5 734.4L1220.5 731.0L1223.5 727.2L1226.5 723.2L1229.5 718.8L1232.5 714.1L1235.5 709.1L1238.5 703.8L1241.5 698.2L1244.5 692.4L1247.5 686.3L1250.5 680.0L1253.5 673.5L1256.5 666.8L1259.5 660.0L1262.5 652.9L1265.5 645.7L1268.5 638.3L1271.5 630.9L1274.5 623.3L1277.5 615.6L1280.5 607.8L1283.5 600.0L1286.5 592.1L1289.5 584.2L1292.5 576.4L1295.5 568.7L1298.5 561.1L1301.5 553.7L1304.5 546.5L1307.5 539.7L1310.5 533.1L1313.5 527.0L1316.5 521.2L1319.5 516.0L1322.5 511.2L1325.5 507.0L1328.5 503.4L1331.5 500.4L1334.5 498.1L1337.5 496.5L1340.5 495.5L1343.5 495.4L1346.5 496.0L1349.5 497.4L1352.5 499.6L1355.5 502.6L1358.5 506.3L1361.5 510.6L1364.5 515.4L1367.5 520.7L1370.5 526.4L1373.5 532.3L1376.5 538.5L1379.5 544.8L1382.5 551.2L1385.5 557.7L1388.5 564.2L1391.5 570.8L1394.5 577.4L1397.5 584.0L1400.5 590.6L1403.5 597.3L1406.5 604.1L1409.5 611.0L1412.5 618.1L1415.5 625.3L1418.5 632.6L1421.5 640.2L1424.5 648.0L1427.5 656.1L1430.5 664.3L1433.5 672.7L1436.5 681.2L1439.5 689.8L1442.5 698.5L1445.5 707.2L1448.5 715.9L1451.5 724.5L1454.5 733.0L1457.5 741.4L1460.5 749.7L1463.5 757.8L1466.5 765.6L1469.5 773.2L1472.5 780.5L1475.5 787.4L1478.5 794.0L1481.5 800.3L1484.5 806.2L1487.5 811.8L1490.5 817.1L1493.5 822.1L1496.5 826.8L1499.5 831.2L1502.5 835.4L1505.5 839.3L1508.5 842.9L1511.5 846.3L1514.5 849.4L1517.5 852.3L1520.5 855.0L1523.5 857.5L1526.5 859.8L1529.5 861.9L1532.5 863.7L1535.5 865.5L1538.5 867.0L1541.5 868.4L1544.5 869.6L1547.5 870.7L1550.5 871.7L1553.5 872.5L1556.5 873.2L1559.5 873.8L1562.5 874.3L1565.5 874.7L1568.5 875.0L1571.5 875.3L1574.5 875.4L1577.5 875.6L1580.5 875.6L1583.5 875.6L1586.5 875.6L1589.5 875.5L1592.5 875.4L1595.5 875.2L1598.5 875.0L1601.5 874.8L1604.5 874.5L1607.5 874.2L1610.5 873.9L1613.5 873.5L1616.5 873.1L1619.5 872.7L1622.5 872.2L1625.5 871.8L1628.5 871.3L1631.5 870.8L1634.5 870.3L1637.5 869.8L1640.5 869.3L1643.5 868.7L1646.5 868.2L1649.5 867.7L1652.5 867.1L1655.5 866.6L1658.5 866.1L1661.5 865.6L1664.5 865.1L1667.5 864.6L1670.5 864.1L1673.5 863.7L1676.5 863.3L1679.5 862.8L1682.5 862.4L1685.5 862.0L1688.5 861.7L1691.5 861.3L1694.5 861.0L1697.5 860.7L1700.5 860.4L1703.5 860.1L1706.5 859.8L1709.5 859.5L1712.5 859.3L1715.5 859.0L1718.5 858.8L1721.5 858.6L1724.5 858.4L1727.5 858.2L1730.5 858.1L1733.5 857.9L1736.5 857.8L1739.5 857.6L1742.5 857.5L1745.5 857.4L1748.5 857.3L1751.5 857.2L1754.5 857.1L1757.5 857.0L1760.5 856.9L1763.5 856.9L1766.5 856.8L1769.5 856.8L1772.5 856.7L1775.5 856.7L1778.5 856.6L1781.5 856.6L1784.5 856.5L1787.5 856.4L1790.5 856.3L1793.5 856.2L1796.5 856.1L1799.5 856.0L1802.5 855.9L1805.5 855.7L1808.5 855.5L1811.5 855.3L1814.5 855.0L1817.5 854.8L1820.5 854.5L1823.5 854.1L1826.5 853.8L1829.5 853.4L1832.5 852.9L1835.5 852.4L1838.5 851.9L1841.5 851.4L1844.5 850.8L1847.5 850.2L1850.5 849.6L1853.5 848.9L1856.5 848.2L1859.5 847.5L1862.5 846.7L1865.5 845.9L1868.5 845.1L1871.5 844.3L1874.5 843.4L1877.5 842.5L1880.5 841.6L1883.5 840.7L1886.5 839.7L1889.5 838.7L1892.5 837.8L1895.5 836.7L1898.5 835.7L1901.5 834.7L1904.5 833.6L1907.5 832.5L1910.5 831.4L1913.5 830.3L1916.5 829.2L1919.5 828.1L1922.5 826.9L1925.5 825.7L1928.5 824.6L1931.5 823.4L1934.5 822.1L1937.5 820.9L1940.5 819.6L1943.5 818.4L1946.5 817.1L1949.5 815.8L1952.5 814.4L1955.5 813.1L1958.5 811.7L1961.5 810.3L1964.5 808.9L1967.5 807.5L1970.5 806.0L1973.5 804.5L1976.5 803.0L1979.5 801.5L1982.5 799.9L1985.5 798.4L1988.5 796.8L1991.5 795.1L1994.5 793.5L1997.5 791.8L2000.5 790.1L2003.5 788.4L2006.5 786.6L2009.5 784.8L2012.5 783.0L2015.5 781.2L2018.5 779.3L2021.5 777.4L2024.5 775.5L2027.5 773.5L2030.5 771.6L2033.5 769.5L2036.5 767.5L2039.5 765.4L2042.5 763.3L2045.5 761.2L2048.5 759.0L2051.5 756.8L2054.5 754.5L2057.5 752.3L2060.5 749.9L2063.5 747.6L2066.5 745.2L2069.5 742.8L2072.5 740.4L2075.5 737.9L2078.5 735.3L2081.5 732.8L2084.5 730.2L2087.5 727.6L2090.5 724.9L2093.5 722.2L2096.5 719.5L2099.5 716.7L2102.5 713.9L2105.5 711.1L2108.5 708.2L2111.5 705.3L2114.5 702.4L2117.5 699.4L2120.5 696.4L2123.5 693.4L2126.5 690.4L2129.5 687.3L2132.5 684.1L2135.5 681.0L2138.5 677.8L2141.5 674.6L2144.5 671.4L2147.5 668.1L2150.5 664.8L2153.5 661.5L2156.5 658.1L2159.5 654.7L2162.5 651.3L2165.5 647.9L2168.5 644.4L2171.5 640.9L2174.5 637.4L2177.5 633.8L2180.5 630.3L2183.5 626.7L2186.5 623.0L2189.5 619.4L2192.5 615.7L2195.5 612.0L2198.5 608.3L2201.5 604.5L2204.5 600.7L2207.5 596.9L2210.5 593.0L2213.5 589.1L2216.5 585.2L2219.5 581.3L2222.5 577.3L2225.5 573.3L2228.5 569.2L2231.5 565.1L2234.5 561.0L2237.5 556.8L2240.5 552.6L2243.5 548.4L2246.5 544.1L2249.5 539.8L2252.5 535.4L2255.5 531.0L2256.1 530.1"/>
</g>
<path d="M1475.0 330.6L1398.0 459.0" stroke="#5B9BD5" stroke-width="10.0" fill="none"/>
<path d="M1380.1 489.8L1383.7 442.5L1420.9 463.8Z" fill="#5B9BD5"/>
<g stroke-width="11" stroke-linecap="round" fill="none">
<path stroke="#FFC000" d="M467.5 141.5H609.5"/>
<path stroke="#4472C4" d="M467.5 247.8H609.5"/>
<path stroke="#375623" d="M467.5 354.1H609.5"/>
<path stroke="#C00000" d="M467.5 460.4H609.5"/>
<path stroke="#404040" d="M467.5 566.7H609.5"/>
<path stroke="#FF0000" d="M467.5 673.0H609.5"/>
</g>
<g font-size="73.8px">
<text x="623.7" y="165.2">Blank (KCl 0.1 M)</text>
<text x="623.7" y="271.5">100 µM Glutamate</text>
<text x="623.7" y="377.8">200 µM Ascorbic acid</text>
<text x="623.7" y="484.1">8 mM Glucose</text>
<text x="623.7" y="590.4">200 µM Uric acid</text>
<text x="623.7" y="696.7">Blended</text>
</g>
<text x="1481.2" y="307.2" font-size="88.9px">Glutamate peak</text>
<g font-size="89px" text-anchor="end">
<text x="359.6" y="1422.8">0</text>
<text x="359.6" y="1200.0">50</text>
<text x="359.6" y="977.2">100</text>
<text x="359.6" y="754.4">150</text>
<text x="359.6" y="531.6">200</text>
<text x="359.6" y="308.8">250</text>
<text x="359.6" y="86.0">300</text>
</g>
<g font-size="88.5px" text-anchor="middle">
<text x="434.5" y="1528.0">-0.5</text>
<text x="676.9" y="1528.0">-0.3</text>
<text x="919.3" y="1528.0">-0.1</text>
<text x="1161.7" y="1528.0">0.1</text>
<text x="1404.2" y="1528.0">0.3</text>
<text x="1646.6" y="1528.0">0.5</text>
<text x="1889.0" y="1528.0">0.7</text>
<text x="2131.4" y="1528.0">0.9</text>
</g>
<text class="b" x="1096.9" y="1656.3" font-size="88px">E vs. Ag/AgCl [V]</text>
<text class="b" transform="translate(91.8 1014.0) rotate(-90)" font-size="88px">Current [µA]</text>
</svg></body></html>
